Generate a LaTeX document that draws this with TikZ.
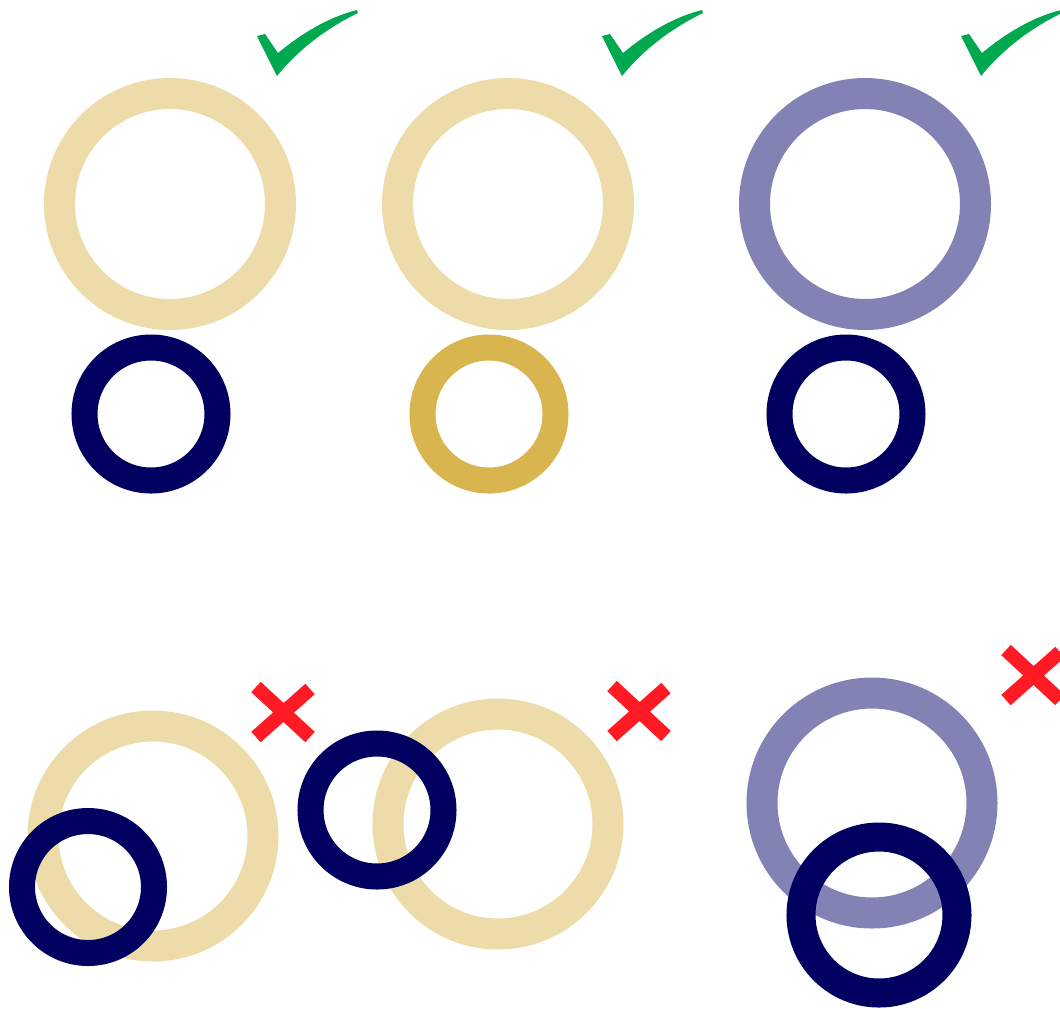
\documentclass[tikz,border=0pt]{standalone}
\definecolor{beige}{HTML}{EDDCA9}
\definecolor{lav}{HTML}{8282B4}
\definecolor{navy}{HTML}{000060}
\definecolor{gold}{HTML}{D9B54F}
\definecolor{okgreen}{HTML}{00A84F}
\definecolor{nored}{HTML}{FF1A24}
\tikzset{
  bigring/.style={line width=0.31cm},
  smallring/.style={line width=0.26cm, navy},
  chk/.pic={\fill[okgreen] (0,0) -- (8,-2) -- (21,17) .. controls (45,-3) and (72,-19) .. (100,-26) -- (101,-23) .. controls (70,-8) and (42,13) .. (20,40) -- cycle;},
  crs/.pic={\draw[nored,line width=0.14cm] (-27,-25) -- (27,25) (27,-23) -- (-27,25);}
}
\begin{document}
\begin{tikzpicture}[x=0.01cm,y=-0.01cm]
\useasboundingbox (0,0) rectangle (1060,1008);
% top row
\draw[bigring,beige] (170,204) circle (110.5);
\draw[smallring] (151,414) circle (66.5);
\pic at (257,36) {chk};
\draw[bigring,beige] (508,204) circle (110.5);
\draw[smallring,gold] (489,414) circle (66.5);
\pic at (602,36) {chk};
\draw[bigring,lav] (865,204) circle (110.5);
\draw[smallring] (846,414) circle (66.5);
\pic at (961,36) {chk};
% bottom row
\draw[bigring,beige] (153,836) circle (110);
\draw[smallring] (88,887) circle (66);
\pic at (283,712) {crs};
\draw[bigring,beige] (498,824) circle (110);
\draw[smallring] (377,810) circle (66.5);
\pic at (639,711) {crs};
\draw[bigring,lav] (872,803) circle (110);
\draw[line width=0.29cm,navy] (879,915) circle (78);
\pic at (1033,675) {crs};
\end{tikzpicture}
\end{document}
